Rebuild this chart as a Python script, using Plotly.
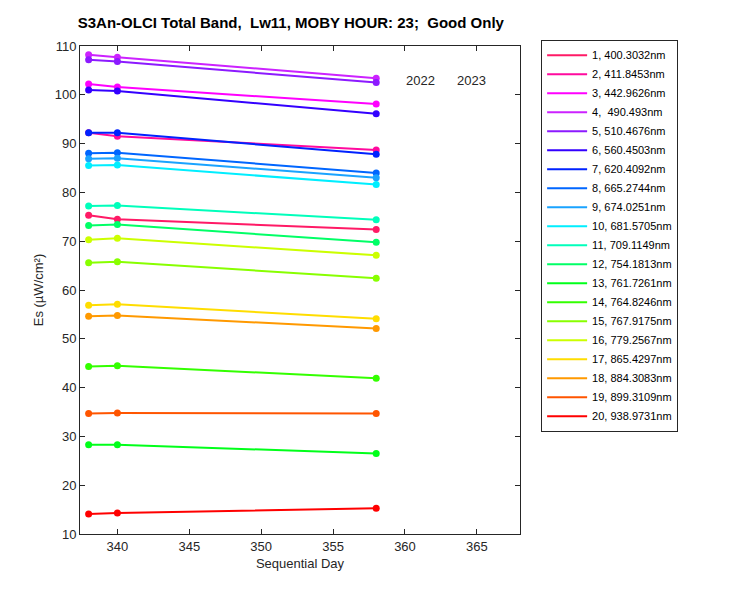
import plotly.graph_objects as go

days = [338, 340, 358]
bands = ["1, 400.3032nm", "2, 411.8453nm", "3, 442.9626nm", "4,  490.493nm",
         "5, 510.4676nm", "6, 560.4503nm", "7, 620.4092nm", "8, 665.2744nm",
         "9, 674.0251nm", "10, 681.5705nm", "11, 709.1149nm", "12, 754.1813nm",
         "13, 761.7261nm", "14, 764.8246nm", "15, 767.9175nm", "16, 779.2567nm",
         "17, 865.4297nm", "18, 884.3083nm", "19, 899.3109nm", "20, 938.9731nm"]
es = [
    [75.3, 74.5, 72.4],
    [92.2, 91.5, 88.7],
    [102.2, 101.6, 98.1],
    [108.2, 107.7, 103.4],
    [107.2, 106.8, 102.5],
    [101.0, 100.8, 96.1],
    [92.2, 92.2, 87.8],
    [88.0, 88.1, 84.0],
    [86.9, 87.0, 83.0],
    [85.5, 85.6, 81.6],
    [77.2, 77.3, 74.4],
    [73.2, 73.4, 69.8],
    [28.3, 28.3, 26.5],
    [44.3, 44.5, 41.9],
    [65.6, 65.8, 62.4],
    [70.3, 70.6, 67.1],
    [56.9, 57.1, 54.1],
    [54.6, 54.8, 52.1],
    [34.7, 34.8, 34.7],
    [14.1, 14.3, 15.3],
]
colors = ["#ff1a66", "#ff0a9e", "#ff00ff", "#cc22ff", "#8c1aff", "#3300ff",
          "#0022ff", "#0066ff", "#1aa3ff", "#00eeff", "#00ffbb", "#00ff66",
          "#00ff1a", "#33ff00", "#88ff00", "#ccff00", "#ffdd00", "#ff9900",
          "#ff5500", "#ff0000"]

fig = go.Figure()
for name, vals, c in zip(bands, es, colors):
    fig.add_trace(go.Scatter(x=days, y=vals, name=name, mode="lines+markers", legendgroup=name,
                             showlegend=False,
                             line=dict(color=c, width=2), marker=dict(color=c, size=7)))
    # legend entry: line only
    fig.add_trace(go.Scatter(x=[None], y=[None], name=name, mode="lines", legendgroup=name,
                             line=dict(color=c, width=2)))

fig.add_annotation(text="2022", x=0.811, y=0.949, xref="paper", yref="paper",
                   showarrow=False, font=dict(size=13))
fig.add_annotation(text="2023", x=0.927, y=0.949, xref="paper", yref="paper",
                   showarrow=False, font=dict(size=13))

axis = dict(showgrid=False, zeroline=False, showline=True, linecolor="#262626",
            mirror="ticks", ticks="inside", ticklen=5, tickcolor="#262626",
            tickfont=dict(size=13, color="#262626"))
fig.update_layout(
    width=750, height=600, template="none", plot_bgcolor="white",
    font=dict(family="Liberation Sans, Arial", color="#262626"),
    margin=dict(l=72, r=238, t=38, b=74),
    title=dict(text="<b>S3An-OLCI Total Band,  Lw11, MOBY HOUR: 23;  Good Only</b>",
               x=0.093, xanchor="left", y=0.985, font=dict(size=15, color="black")),
    xaxis=dict(axis, range=[337.4, 368], dtick=5,
               title=dict(text="Sequential Day", font=dict(size=13), standoff=6)),
    yaxis=dict(axis, range=[10, 110], dtick=10,
               title=dict(text="Es (µW/cm²)", font=dict(size=13), standoff=8)),
    showlegend=True,
    legend=dict(x=1.048, y=1.013, xanchor="left", yanchor="top", bordercolor="#262626",
                borderwidth=1, font=dict(size=11, color="black"), tracegroupgap=0,
                itemwidth=40, maxheight=600),
)
fig.write_html("out.html")
